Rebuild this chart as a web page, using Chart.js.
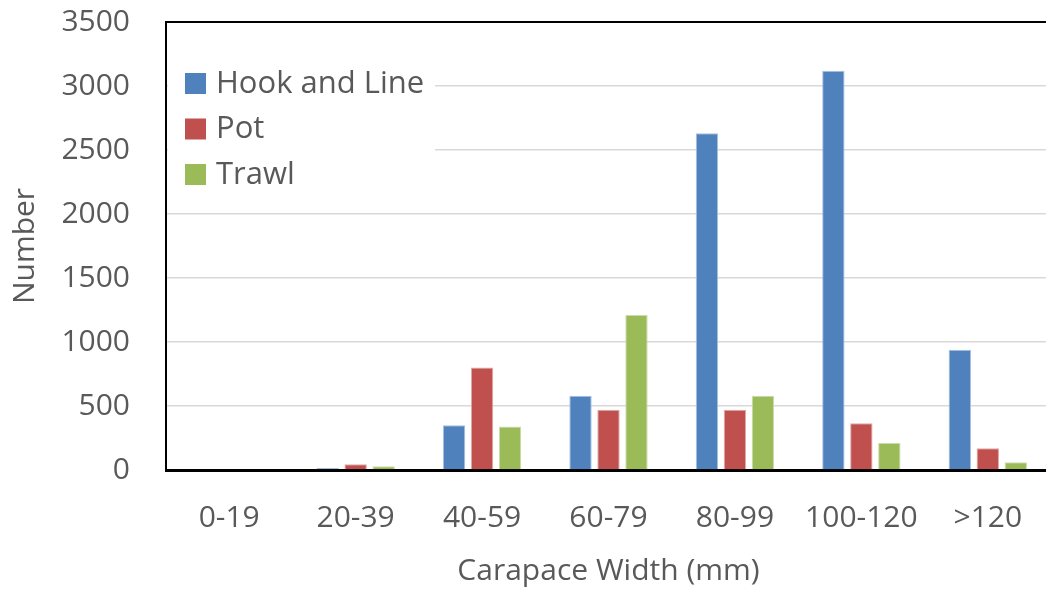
<!DOCTYPE html>
<html>
<head>
<meta charset="utf-8">
<script src="https://cdn.jsdelivr.net/npm/chart.js@4"></script>
<style>
  html, body { margin: 0; padding: 0; background: #fff; overflow: hidden; }
</style>
</head>
<body>
<canvas id="chart" width="1056" height="589"></canvas>
<script>
// Carapace width classes and catch counts by gear
const categories = ['0-19', '20-39', '40-59', '60-79', '80-99', '100-120', '>120'];
const hookAndLine = [0, 15, 350, 580, 2630, 3120, 940];
const pot = [0, 45, 800, 470, 470, 365, 170];
const trawl = [0, 30, 340, 1210, 580, 210, 60];

const textColor = '#595959';
const fontFamily = "'Open Sans', 'Liberation Sans', sans-serif";

// top edge of the plot frame
const frameTop = {
  id: 'frameTop',
  afterDraw(chart) {
    const { ctx, chartArea } = chart;
    ctx.save();
    ctx.strokeStyle = '#000';
    ctx.lineWidth = 2;
    ctx.beginPath();
    ctx.moveTo(chartArea.left - 1, chartArea.top);
    ctx.lineTo(chartArea.right, chartArea.top);
    ctx.stroke();
    ctx.restore();
  }
};

// legend sits inside the plot, top-left, on white
const insideLegend = {
  id: 'insideLegend',
  afterDraw(chart) {
    const { ctx, chartArea } = chart;
    const x0 = chartArea.left + 2;
    ctx.save();
    ctx.fillStyle = '#fff';
    ctx.fillRect(x0, 55, 435 - x0, 145);
    ctx.font = '31px ' + fontFamily;
    ctx.textBaseline = 'middle';
    chart.data.datasets.forEach((ds, i) => {
      const cy = 83 + i * 45.5;
      ctx.fillStyle = ds.backgroundColor;
      ctx.fillRect(185, cy - 10, 21, 21);
      ctx.fillStyle = textColor;
      ctx.fillText(ds.label, 216, cy + 1);
    });
    ctx.restore();
  }
};

new Chart(document.getElementById('chart').getContext('2d'), {
  type: 'bar',
  data: {
    labels: categories,
    datasets: [
      { label: 'Hook and Line', data: hookAndLine, backgroundColor: '#4f81bd', borderColor: '#a7c0de', borderWidth: 1 },
      { label: 'Pot', data: pot, backgroundColor: '#c0504d', borderColor: '#e0a8a6', borderWidth: 1 },
      { label: 'Trawl', data: trawl, backgroundColor: '#9bbb59', borderColor: '#cddcac', borderWidth: 1 }
    ]
  },
  options: {
    responsive: false,
    animation: false,
    layout: { padding: { top: 22, right: 5, left: 0, bottom: 0 } },
    categoryPercentage: 0.664,
    barPercentage: 0.8,
    plugins: { legend: { display: false }, tooltip: { enabled: false } },
    scales: {
      x: {
        grid: { display: false, drawTicks: false },
        border: { display: true, color: '#000', width: 3 },
        ticks: { color: textColor, font: { family: fontFamily, size: 30 }, padding: 30, maxRotation: 0 },
        title: { display: true, text: 'Carapace Width (mm)', color: textColor, font: { family: fontFamily, size: 30 }, padding: { top: 0, bottom: 0 } },
        afterFit(scale) { scale.height = 119; }
      },
      y: {
        min: 0,
        max: 3500,
        ticks: { stepSize: 500, color: textColor, font: { family: fontFamily, size: 30 }, padding: 36, callback: v => String(v) },
        grid: { color: '#d9d9d9', lineWidth: 1.5, drawTicks: false },
        border: { display: true, color: '#000', width: 2 },
        title: { display: true, text: 'Number', color: textColor, font: { family: fontFamily, size: 30 }, padding: { top: 7, bottom: 0 } },
        afterFit(scale) { scale.width = 166; scale.paddingTop = 0; scale.paddingBottom = 0; }
      }
    }
  },
  plugins: [frameTop, insideLegend]
});
</script>
</body>
</html>
